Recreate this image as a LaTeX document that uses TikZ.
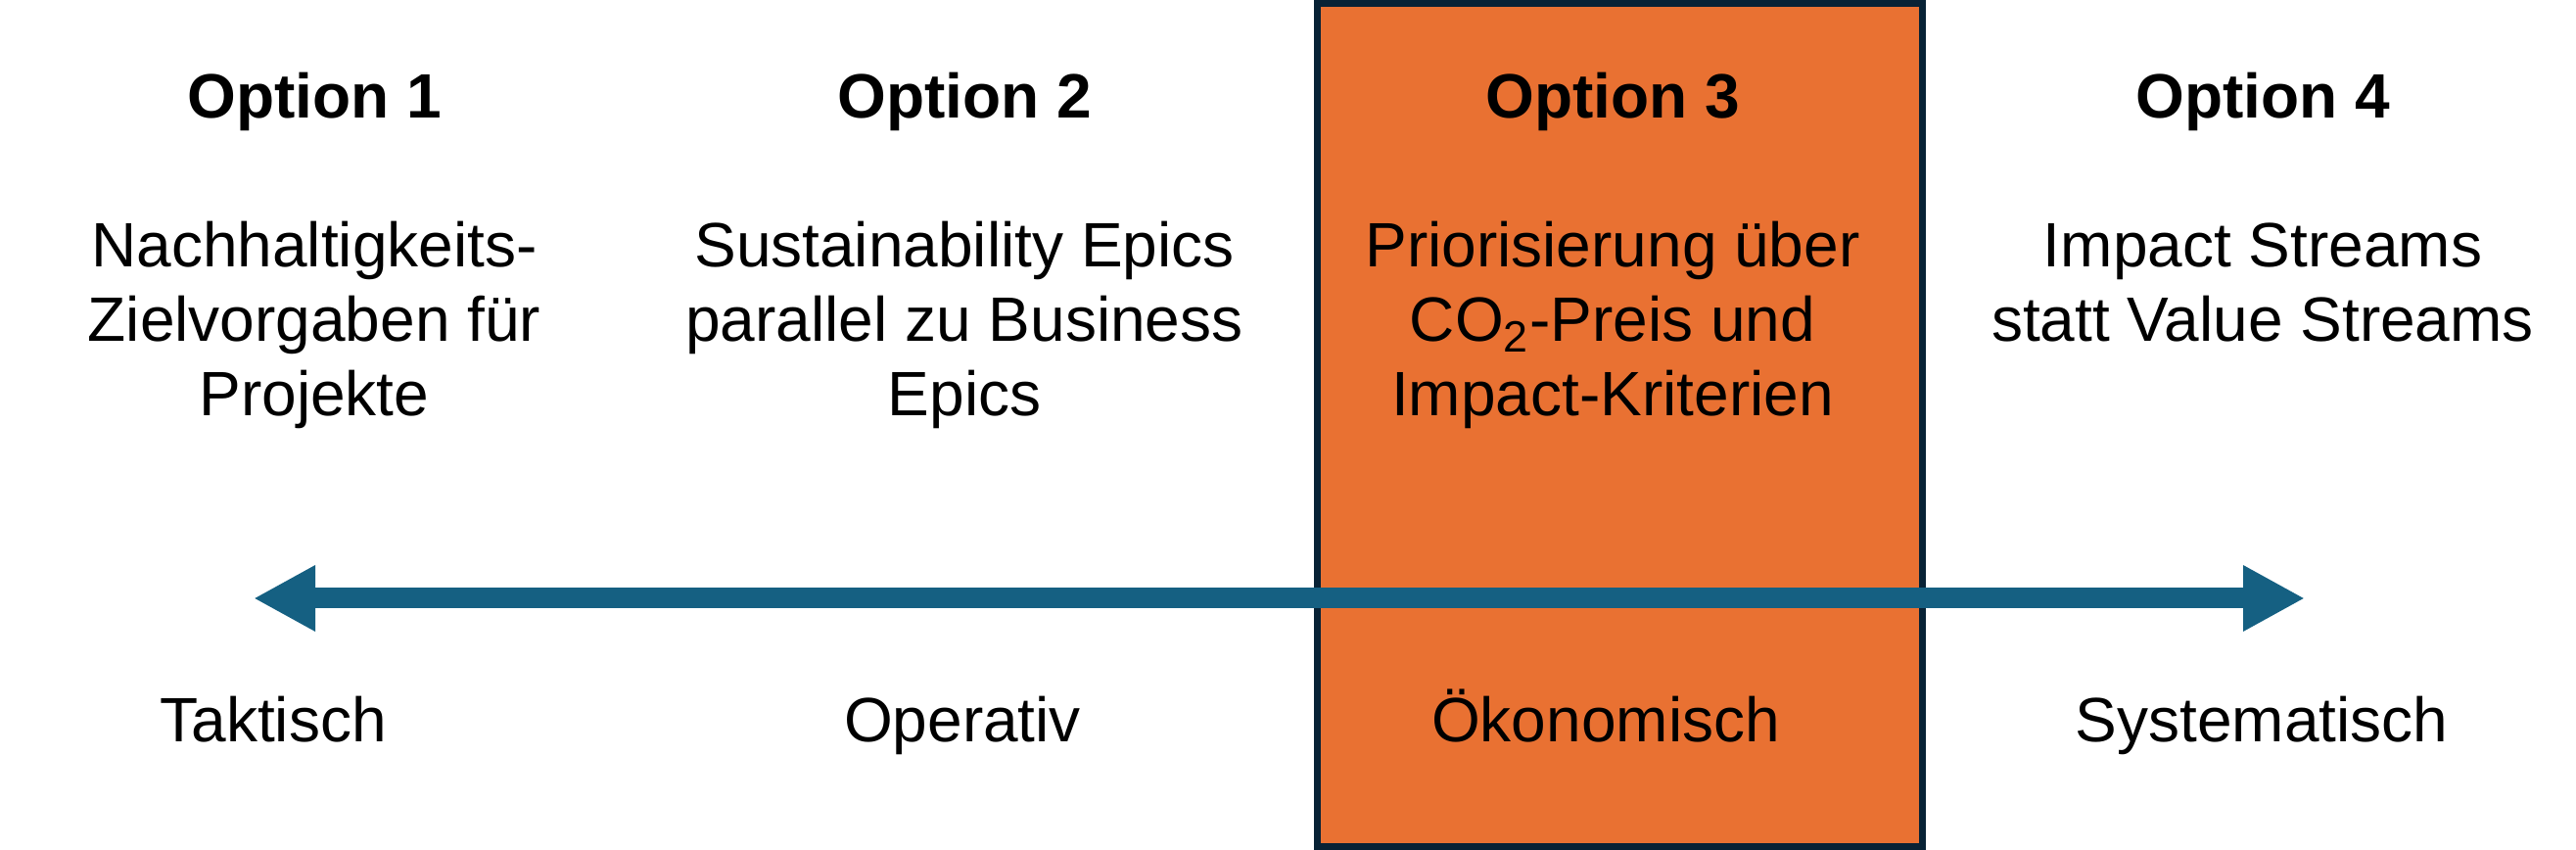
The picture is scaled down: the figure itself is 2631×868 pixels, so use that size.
\documentclass[tikz,border=0pt]{standalone}
\usepackage{fontspec}
\setmainfont{Liberation Sans}
\usetikzlibrary{arrows.meta}
\definecolor{boxorange}{HTML}{E97132}
\definecolor{boxnavy}{HTML}{082235}
\definecolor{arrowblue}{HTML}{156082}
\begin{document}
\begin{tikzpicture}[x=0.01cm,y=-0.01cm,
  txt/.style={anchor=base,inner sep=0pt,font=\fontsize{18.2}{21.6}\selectfont,text=black},
  head/.style={txt,font=\fontsize{18.2}{21.6}\selectfont\bfseries},
  hibox/.style={draw=boxnavy,fill=boxorange,line width=0.07cm,inner sep=0pt,
    minimum width=6.18cm,minimum height=8.61cm},
  axisarrow/.style={draw=arrowblue,line width=0.21cm,
    {Triangle[length=0.63cm,width=0.63cm]}-{Triangle[length=0.63cm,width=0.63cm]}}
]
\useasboundingbox (0,0) rectangle (2631,868);
\node[hibox] (box) at (1654.5,434) {};
\coordinate (L) at (259,611);
\coordinate (R) at (2354,611);
\draw[axisarrow] (L) -- (R);
% headings
\node[head] (h1) at (321,121) {Option 1};
\node[head] (h2) at (985,121) {Option 2};
\node[head] (h3) at (1647,121) {Option 3};
\node[head] (h4) at (2311,121) {Option 4};
% column 1
\node[txt] (a1) at (321,273) {Nachhaltigkeits-};
\node[txt] (a2) at (321,349) {Zielvorgaben für};
\node[txt] (a3) at (321,425) {Projekte};
% column 2
\node[txt] (b1) at (985,273) {Sustainability Epics};
\node[txt] (b2) at (985,349) {parallel zu Business};
\node[txt] (b3) at (985,425) {Epics};
% column 3
\node[txt] (c1) at (1647,273) {Priorisierung über};
\node[txt] (c2) at (1647,349) {CO\textsubscript{2}-Preis und};
\node[txt] (c3) at (1647,425) {Impact-Kriterien};
% column 4
\node[txt] (d1) at (2311,273) {Impact Streams};
\node[txt] (d2) at (2311,349) {statt Value Streams};
% bottom labels
\node[txt] (t1) at (279,758) {Taktisch};
\node[txt] (t2) at (983,758) {Operativ};
\node[txt] (t3) at (1640,758) {Ökonomisch};
\node[txt] (t4) at (2310,758) {Systematisch};
\end{tikzpicture}
\end{document}
